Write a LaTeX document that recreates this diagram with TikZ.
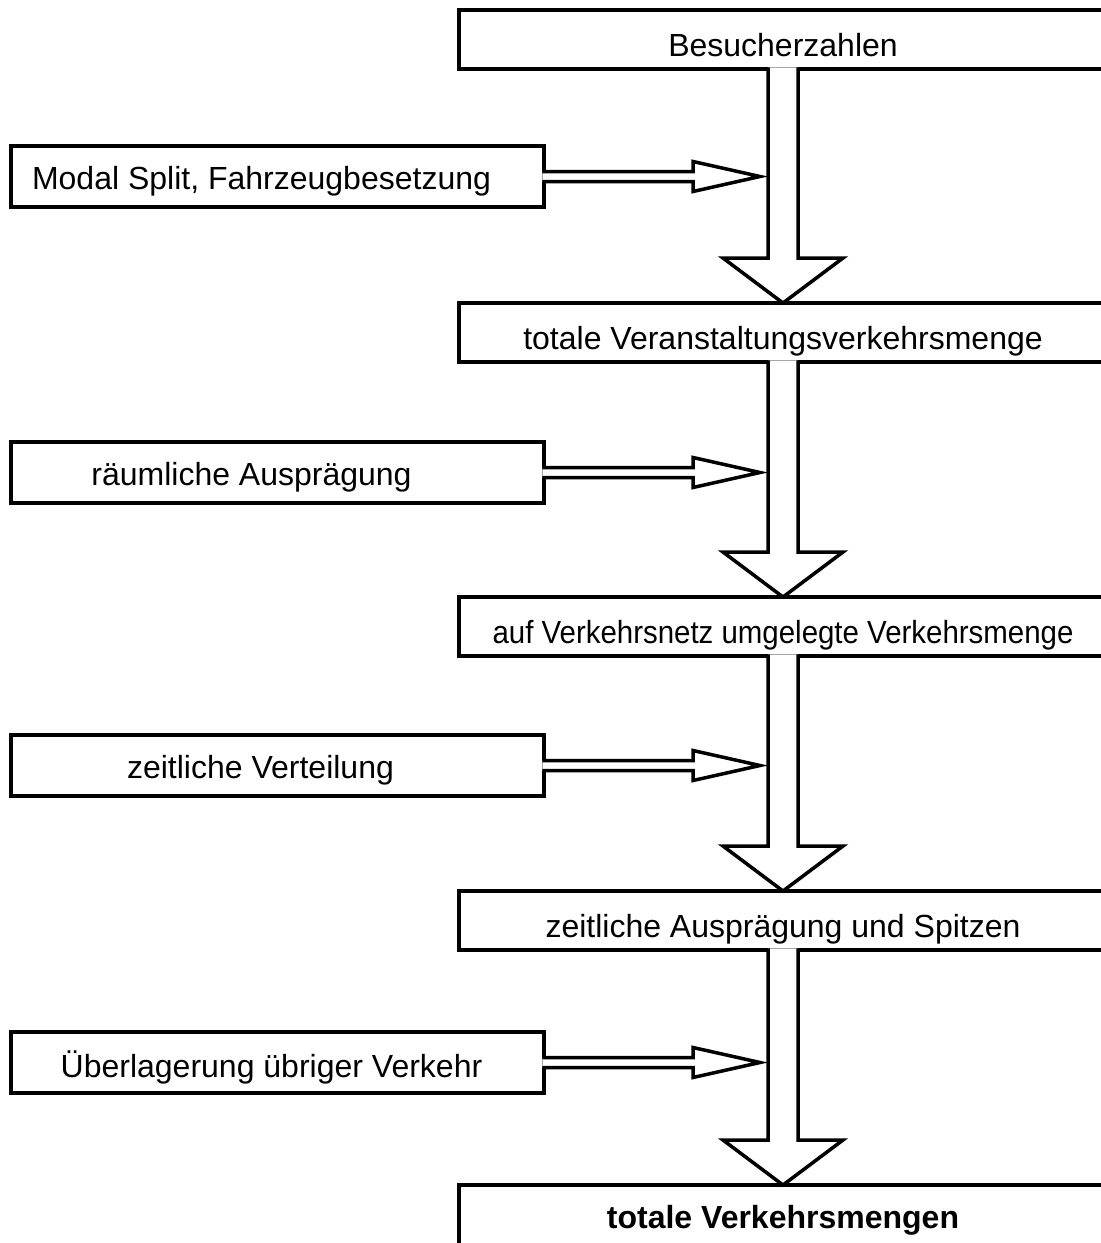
\documentclass[tikz,border=0pt]{standalone}
\usepackage{fontspec}
\setmainfont{Liberation Sans}
\usetikzlibrary{calc}

\begin{document}
\begin{tikzpicture}[x=1pt,y=-1pt,
	flowbox/.style={rectangle,draw,line width=3.5pt,outer sep=0pt,inner sep=0pt,minimum height=59pt,anchor=north west,font=\fontsize{32}{38}\selectfont},
	mainbox/.style={flowbox,minimum width=648pt,text height=34pt,text depth=0pt},
	sidebox/.style={flowbox,minimum width=533pt,minimum height=61pt},
	sidetext/.style={font=\fontsize{32}{38}\selectfont,yshift=-5pt},
	hollow/.style={draw,fill=white,line width=3.5pt,line join=miter}
	]
	\useasboundingbox (0,0) rectangle (1101,1243);
	\path
	+(459,10)   node[mainbox]  (b1) {Besucherzahlen}
	+(459,303)  node[mainbox]  (b2) {totale Veranstaltungsverkehrsmenge}
	+(459,597)  node[mainbox]  (b3) {\scalebox{0.92}[1]{auf Verkehrsnetz umgelegte Verkehrsmenge}}
	+(459,891)  node[mainbox]  (b4) {zeitliche Ausprägung und Spitzen}
	+(459,1185) node[flowbox,minimum width=648pt,minimum height=70pt,font=\fontsize{32}{38}\selectfont\bfseries]  (b5) {totale Verkehrsmengen}
	+(11,146)   node[sidebox]  (m1) {}
	+(11,442)   node[sidebox]  (m2) {}
	+(11,735)   node[sidebox]  (m3) {}
	+(11,1032)  node[sidebox]  (m4) {}
	;
	\node[sidetext] (t1) at ([xshift=-16pt]m1.center) {Modal Split, Fahrzeugbesetzung};
	\node[sidetext] (t2) at ([xshift=-26pt]m2.center) {räumliche Ausprägung};
	\node[sidetext] (t3) at ([xshift=-17pt]m3.center) {zeitliche Verteilung};
	\node[sidetext] (t4) at ([xshift=-6pt]m4.center) {Überlagerung übriger Verkehr};
	% side inputs
	\foreach \i in {1,...,4} {
		\coordinate (tip\i) at ($(m\i.east -| b1.south) + (-23,0)$);
		\draw[hollow] ([xshift=-1.75pt,yshift=5pt]m\i.east) -- ([xshift=-67pt,yshift=5pt]tip\i) -- ([xshift=-67pt,yshift=15pt]tip\i) -- (tip\i) -- ([xshift=-67pt,yshift=-15pt]tip\i) -- ([xshift=-67pt,yshift=-5pt]tip\i) -- ([xshift=-1.75pt,yshift=-5pt]m\i.east);
	}
	% main flow
	\foreach \i/\j in {1/2,2/3,3/4,4/5} {
		\draw[hollow] ([xshift=-15pt,yshift=1.75pt]b\i.south) -- ([xshift=-15pt,yshift=45pt]b\j.north) -- ([xshift=-60pt,yshift=45pt]b\j.north) -- (b\j.north) -- ([xshift=60pt,yshift=45pt]b\j.north) -- ([xshift=15pt,yshift=45pt]b\j.north) -- ([xshift=15pt,yshift=1.75pt]b\i.south);
	}
\end{tikzpicture}
\end{document}
